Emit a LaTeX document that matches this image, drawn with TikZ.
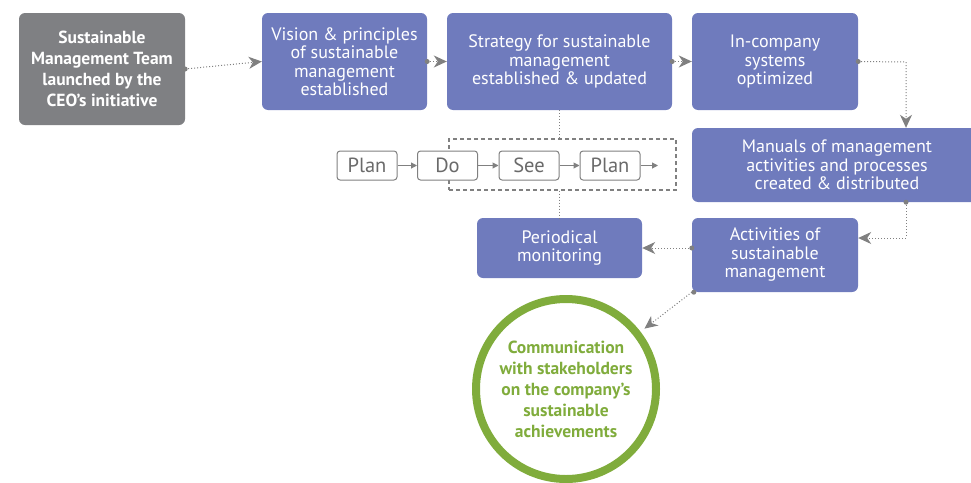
\documentclass[tikz,border=0pt]{standalone}
\usepackage{fontspec}
\setmainfont{PT Sans}
\usetikzlibrary{arrows.meta,positioning}
\definecolor{boxblue}{HTML}{6F7BBD}
\definecolor{boxgray}{HTML}{7F8083}
\definecolor{lgray}{HTML}{808080}
\definecolor{dgray}{HTML}{6A6A6A}
\definecolor{cgreen}{HTML}{80AC3C}
\tikzset{
  bluebox/.style={fill=boxblue, rounded corners=6pt, text=white, align=center, inner sep=0pt,
    font=\fontsize{18}{18.5}\selectfont},
  graybox/.style={fill=boxgray, rounded corners=6pt, text=white, align=center, inner sep=0pt,
    font=\bfseries\fontsize{17.5}{21}\selectfont},
  pdsbox/.style={draw=lgray, fill=white, line width=1pt, rounded corners=3pt, text=dgray, minimum width=60pt,
    minimum height=29pt, inner sep=0pt, font=\fontsize{20.5}{20}\selectfont},
  conn/.style={draw=lgray, line width=1pt, dotted, -{Stealth[length=13pt,width=12pt,inset=4pt]}},
  connnotip/.style={draw=lgray, line width=1pt, dotted},
  startdot/.style={fill=lgray, circle, inner sep=0pt, minimum size=5pt},
  small/.style={draw=lgray, line width=1pt, -{Triangle[length=6pt,width=6pt]}},
}
\begin{document}
\begin{tikzpicture}[x=1pt,y=-1pt]
\useasboundingbox (0,0) rectangle (971,482);
\node[graybox, minimum width=166pt, minimum height=112pt] (team) at (102,69)
  {Sustainable\\Management Team\\launched by the\\CEO’s initiative};
\node[bluebox, minimum width=165pt, minimum height=97pt] (vision) at (344.5,61.5)
  {Vision \& principles\\of sustainable\\management\\established};
\node[bluebox, minimum width=225pt, minimum height=97pt] (strat) at (559.5,61.5)
  {Strategy for sustainable\\management\\established \& updated};
\node[bluebox, minimum width=166pt, minimum height=97pt] (incomp) at (775,61.5)
  {In-company\\systems\\optimized};
\node[bluebox, minimum width=290pt, minimum height=74pt] (manual) at (837,165)
  {Manuals of management\\activities and processes\\created \& distributed};
\node[bluebox, minimum width=166pt, minimum height=74pt] (activ) at (775,255)
  {Activities of\\sustainable\\management};
\node[bluebox, minimum width=165pt, minimum height=60pt] (period) at (559.5,248)
  {Periodical\\monitoring};
\node[circle, draw=cgreen, line width=8pt, minimum size=180pt, inner sep=0pt, align=center,
  text=cgreen, font=\bfseries\fontsize{17.5}{21}\selectfont] (comm) at (566,389)
  {Communication\\with stakeholders\\on the company’s\\sustainable\\achievements};

% Plan-Do-See-Plan
\node[draw=lgray, line width=1.2pt, dash pattern=on 4pt off 3pt, minimum width=227pt,
  minimum height=51pt, inner sep=0pt] (cycle) at (562.5,164.5) {};
\node[pdsbox] (p1) at (367,165.5) {Plan};
\node[pdsbox] (do) at (447.5,165.5) {Do};
\node[pdsbox] (see) at (529,165.5) {See};
\node[pdsbox] (p2) at (610,165.5) {Plan};
\coordinate (pend) at (658,165.5);
\draw[small] (p1) -- (do);
\draw[small] (do) -- (see);
\draw[small] (see) -- (p2);
\draw[small] (p2) -- (pend);

% connectors
\draw[conn] (team.east) -- (vision.west);
\node[startdot] at (team.east) {};
\draw[conn] (vision.east) -- (strat.west);
\node[startdot] at (vision.east) {};
\draw[conn] (strat.east) -- (incomp.west);
\node[startdot] at (strat.east) {};
\coordinate (c1) at (906,62);
\draw[conn] (incomp.east) -- (c1) -- (c1 |- manual.north);
\node[startdot] at (incomp.east) {};
\coordinate (c2) at (906,238);
\draw[conn] (c1 |- manual.south) -- (c2) -- (c2 -| activ.east);
\node[startdot] at (c1 |- manual.south) {};
\draw[conn] (activ.west |- period.east) -- (period.east);
\node[startdot] at (activ.west |- period.east) {};
\draw[conn, shorten >=5pt] (activ.south west) -- (comm);
\node[startdot] at ([xshift=2pt]activ.south west) {};
\draw[connnotip] (strat.south) -- (cycle.north -| strat.south);
\draw[connnotip] (cycle.south -| strat.south) -- (period.north -| strat.south);
\end{tikzpicture}
\end{document}
